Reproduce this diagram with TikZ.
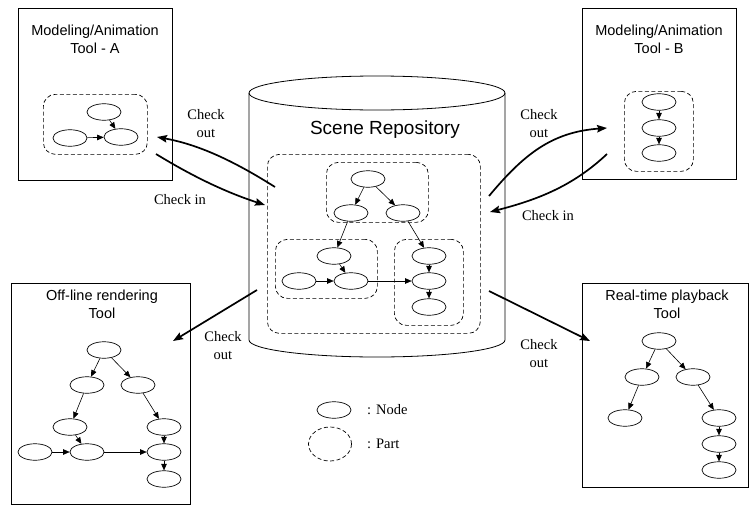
\documentclass[tikz,border=0pt]{standalone}
\usepackage{fontspec}
\setmainfont{Liberation Serif}
\setsansfont{Liberation Sans}
\usetikzlibrary{arrows.meta,shapes.geometric}
\begin{document}
\begin{tikzpicture}[x=1pt,y=-1pt,
  gn/.style={ellipse, draw, minimum width=34pt, minimum height=16.5pt, inner sep=0pt, line width=0.7pt},
  part/.style={draw, dash pattern=on 4pt off 2.5pt, rounded corners=12pt, line width=0.7pt, anchor=north west, inner sep=0pt},
  tool/.style={draw, line width=0.8pt, anchor=north west, inner sep=0pt},
  ga/.style={-{Triangle[length=6.5pt,width=5.5pt]}, line width=0.6pt},
  flow/.style={-{Stealth[length=10pt,width=7.5pt,inset=1.5pt]}, line width=1.7pt},
  lab/.style={font=\fontsize{14.5}{18}\selectfont, align=center, inner sep=0pt},
  ttl/.style={font=\sffamily\fontsize{14.5}{18}\selectfont, align=center, inner sep=0pt}]
\useasboundingbox (0,0) rectangle (751,506);

% ---------- cylinder ----------
\draw[line width=0.8pt] (377,93) ellipse [x radius=128, y radius=17];
\draw[line width=0.8pt] (249,93) -- (249,340) arc[start angle=180, end angle=0, x radius=128, y radius=17] -- (505,93);
\node[font=\sffamily\fontsize{19}{22}\selectfont, inner sep=0pt] (repo) at (385,130) {Scene Repository};

% ---------- tool boxes ----------
\node[tool, minimum width=154pt, minimum height=172pt] (toolA) at (18,8) {};
\node[tool, minimum width=154pt, minimum height=171pt] (toolB) at (582,8) {};
\node[tool, minimum width=179pt, minimum height=221pt] (toolC) at (11,283) {};
\node[tool, minimum width=166pt, minimum height=204pt] (toolD) at (582,283) {};

\node[ttl] (tA) at (95,39) {Modeling/Animation\\Tool - A};
\node[ttl] (tB) at (659,39) {Modeling/Animation\\Tool - B};
\node[ttl] (tC) at (102,304) {Off-line rendering\\Tool};
\node[ttl] (tD) at (667,304) {Real-time playback\\Tool};

% ---------- parts ----------
\node[part, minimum width=104pt, minimum height=60pt] (pA) at (43,94) {};
\node[part, minimum width=69pt, minimum height=80pt] (pB) at (624,91) {};
\node[part, minimum width=213pt, minimum height=179pt] (pAll) at (267,154) {};
\node[part, minimum width=102pt, minimum height=60pt] (pTop) at (326,162) {};
\node[part, minimum width=102pt, minimum height=59pt] (pLeft) at (275,239) {};
\node[part, minimum width=69pt, minimum height=86pt] (pRight) at (394,239) {};

% ---------- tool A graph ----------
\node[gn] (a1) at (104,112) {};
\node[gn] (a2) at (70,138) {};
\node[gn] (a3) at (121,137) {};
\draw[ga] (a2) -- (a3);
\draw[ga] (a1) -- (a3);

% ---------- tool B graph ----------
\node[gn] (b1) at (659,102) {};
\node[gn] (b2) at (659,128) {};
\node[gn] (b3) at (659,153) {};
\draw[ga] (b1) -- (b2);
\draw[ga] (b2) -- (b3);

% ---------- repository graph ----------
\node[gn] (n1) at (368,179) {};
\node[gn] (n2) at (351,213) {};
\node[gn] (n3) at (403,213) {};
\node[gn] (n4) at (334,256) {};
\node[gn] (n5) at (299,281) {};
\node[gn] (n6) at (351,281) {};
\node[gn] (n7) at (429,256) {};
\node[gn] (n8) at (429,281) {};
\node[gn] (n9) at (429,307) {};
\draw[ga] (n1) -- (n2);
\draw[ga] (n1) -- (n3);
\draw[ga] (n2) -- (n4);
\draw[ga] (n3) -- (n7);
\draw[ga] (n4) -- (n6);
\draw[ga] (n5) -- (n6);
\draw[ga] (n6) -- (n8);
\draw[ga] (n7) -- (n8);
\draw[ga] (n8) -- (n9);

% ---------- off-line rendering graph ----------
\node[gn] (c1) at (104,350) {};
\node[gn] (c2) at (87,385) {};
\node[gn] (c3) at (138,385) {};
\node[gn] (c4) at (70,427) {};
\node[gn] (c5) at (164,427) {};
\node[gn] (c6) at (35,452) {};
\node[gn] (c7) at (87,452) {};
\node[gn] (c8) at (164,452) {};
\node[gn] (c9) at (164,479) {};
\draw[ga] (c1) -- (c2);
\draw[ga] (c1) -- (c3);
\draw[ga] (c2) -- (c4);
\draw[ga] (c3) -- (c5);
\draw[ga] (c4) -- (c7);
\draw[ga] (c6) -- (c7);
\draw[ga] (c7) -- (c8);
\draw[ga] (c5) -- (c8);
\draw[ga] (c8) -- (c9);

% ---------- real-time playback graph ----------
\node[gn] (d1) at (659,341) {};
\node[gn] (d2) at (642,377) {};
\node[gn] (d3) at (693,377) {};
\node[gn] (d4) at (625,418) {};
\node[gn] (d5) at (719,418) {};
\node[gn] (d6) at (719,444) {};
\node[gn] (d7) at (719,470) {};
\draw[ga] (d1) -- (d2);
\draw[ga] (d1) -- (d3);
\draw[ga] (d2) -- (d4);
\draw[ga] (d3) -- (d5);
\draw[ga] (d5) -- (d6);
\draw[ga] (d6) -- (d7);

% ---------- check in / check out ----------
\coordinate (coAs) at (275,187);
\coordinate (coAe) at (157,137);
\coordinate (ciAs) at (156,154);
\coordinate (ciAe) at (265,205);
\coordinate (coBs) at (489,196);
\coordinate (coBe) at (607,128);
\coordinate (ciBs) at (607,154);
\coordinate (ciBe) at (490,212);
\coordinate (coCs) at (257,290);
\coordinate (coCe) at (173,341);
\coordinate (coDs) at (489,291);
\coordinate (coDe) at (590,341);

\draw[flow] (coAs) .. controls (237,163) and (201,145) .. (coAe);
\draw[flow] (ciAs) .. controls (192,176) and (225,192) .. (ciAe);
\draw[flow] (coBs) .. controls (524,154) and (552,132) .. (coBe);
\draw[flow] (ciBs) .. controls (572,187) and (536,200) .. (ciBe);
\draw[flow] (coCs) -- (coCe);
\draw[flow] (coDs) -- (coDe);

\node[lab] (lcoA) at (206,124) {Check\\out};
\node[lab] (lciA) at (180,200) {Check in};
\node[lab] (lcoB) at (539,124) {Check\\out};
\node[lab] (lciB) at (548,216) {Check in};
\node[lab] (lcoC) at (223,346) {Check\\out};
\node[lab] (lcoD) at (539,354) {Check\\out};

% ---------- legend ----------
\node[gn] (legN) at (334,410) {};
\node[ellipse, draw, dash pattern=on 4pt off 2.5pt, line width=0.7pt, minimum width=43pt, minimum height=34pt, inner sep=0pt] (legP) at (330,444) {};
\node[lab, anchor=west] (legNt) at (367,410) {: Node};
\node[lab, anchor=west] (legPt) at (367,444) {: Part};
\end{tikzpicture}
\end{document}
